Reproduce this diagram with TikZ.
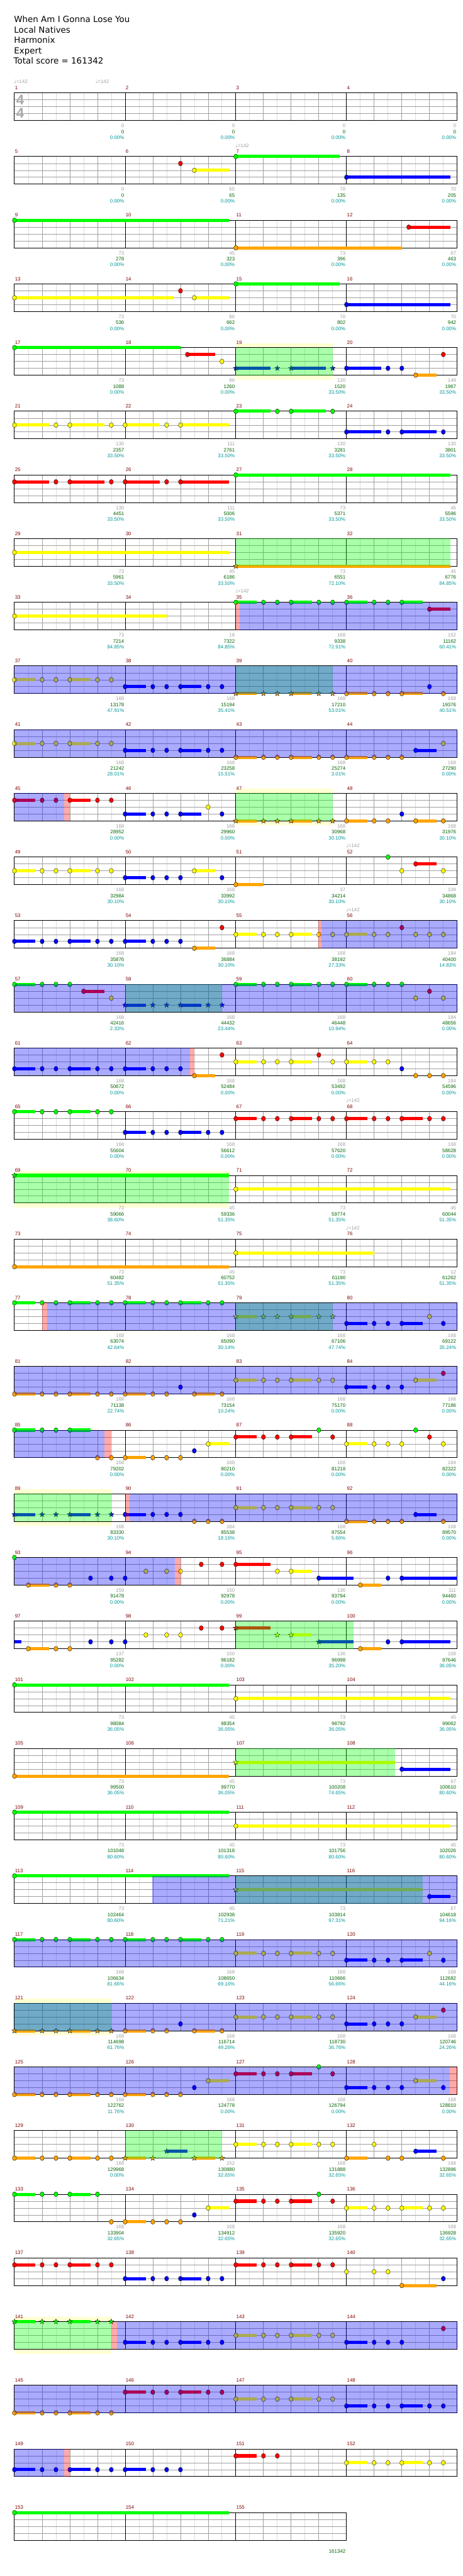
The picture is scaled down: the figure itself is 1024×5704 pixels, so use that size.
\documentclass[tikz,border=0pt]{standalone}
\usepackage{fontspec}
\setmainfont{Liberation Sans}
\newfontfamily\djv{DejaVu Sans}
\definecolor{l0}{HTML}{00FF00}
\definecolor{l1}{HTML}{FF0000}
\definecolor{l2}{HTML}{FFFF00}
\definecolor{l3}{HTML}{0000FF}
\definecolor{l4}{HTML}{FFA500}
\definecolor{mnumc}{HTML}{800000}
\definecolor{sgrey}{HTML}{A0A0A0}
\definecolor{sgreen}{HTML}{006400}
\definecolor{steal}{HTML}{009999}
\definecolor{gridd}{HTML}{A0A0A0}
\definecolor{gridl}{HTML}{DDDDDD}
\definecolor{bandc}{HTML}{FFFFD2}
\newcounter{tc}
\tikzset{
 rowsc/.style={shift={(32,{205.7+(#1-1)*141})}, x=30.625pt, y=-15.25pt},
 mnum/.style={text=mnumc, font=\fontsize{11}{11}\selectfont, inner sep=0},
 sg/.style={text=sgrey, font=\fontsize{11}{11}\selectfont, inner sep=0},
 sgn/.style={text=sgreen, font=\fontsize{11}{11}\selectfont, inner sep=0},
 st/.style={text=steal, font=\fontsize{11}{11}\selectfont, inner sep=0},
 tempo/.style={text=sgrey, font=\fontsize{11}{11}\selectfont, inner sep=0},
 title/.style={font=\djv\fontsize{18.7}{18.7}\selectfont, inner sep=0, anchor=base west},
 tsig/.style={text=black!33, font=\bfseries\fontsize{31}{31}\selectfont, inner sep=0}
}
\newcommand\grid[2]{%
 \pgfmathtruncatemacro\gNe{8*#1}%
 \pgfmathtruncatemacro\gNb{4*#1-1}%
 \pgfmathtruncatemacro\gNm{#1-1}%
 \fill[white] (0,0) rectangle (\gNe,4);
 \foreach \k in {0,...,\gNb} \draw[gridl, line width=1pt] ({2*\k+1},0) -- ({2*\k+1},4);
 \foreach \k in {1,...,\gNb} \draw[gridd, line width=1pt] ({2*\k},0) -- ({2*\k},4);
 \foreach \l in {1,2,3} \draw[gridd, line width=1pt] (0,\l) -- (\gNe,\l);
 \foreach \k in {1,...,\gNm} \draw[black, line width=1pt] ({8*\k},0) -- ({8*\k},4);
 \draw[black, line width=1.4pt] (0,0) rectangle (\gNe,4);
 \foreach \k in {0,...,\gNm}{\pgfmathtruncatemacro\mn{#2+\k}%
   \node[mnum, anchor=base west] (mn\mn) at ([xshift=1pt,yshift=7.4pt]{8*\k},0) {\mn};}
}
\newcommand\nh[2]{\filldraw[fill=l#1, draw=black, line width=0.5pt] ({#2},#1) ellipse [x radius=4.6pt, y radius=5.3pt];}
\newcommand\zh[2]{\filldraw[fill=l#1, draw=black, line width=0.5pt, shift={({#2},#1)}] (90:6pt)--(126:2.5pt)--(162:6pt)--(198:2.5pt)--(234:6pt)--(270:2.5pt)--(306:6pt)--(342:2.5pt)--(18:6pt)--(54:2.5pt)--cycle;}
\newcommand\Nt[2]{\foreach \p in {#2}{\nh{#1}{\p}}}
\newcommand\Zt[2]{\foreach \p in {#2}{\zh{#1}{\p}}}
\newcommand\Bs[3]{\fill[l#1] ([yshift=3.5pt]{#2},#1) rectangle ([yshift=-3.5pt]{#3},#1);}
\newcommand\Su[3]{\Bs{#1}{#2}{#3}\nh{#1}{#2}}
\newcommand\Zs[3]{\Bs{#1}{#2}{#3}\zh{#1}{#2}}
\newcommand\Pt[2]{\Su{#1}{#2}{#2+1.5}\Nt{#1}{#2+2,#2+3}\Su{#1}{#2+4}{#2+5.5}\Nt{#1}{#2+6,#2+7}}
\newcommand\Pz[2]{\Zs{#1}{#2}{#2+1.5}\Zt{#1}{#2+2,#2+3}\Zs{#1}{#2+4}{#2+5.5}\Zt{#1}{#2+6,#2+7}}
\newcommand\Dt[2]{\Su{#1}{#2}{#2+2.5}\Nt{#1}{#2+3}\Su{#1}{#2+4}{#2+6.5}\Nt{#1}{#2+7}}
\newcommand\GO[2]{\fill[l0, fill opacity=0.333] ({#1},0) rectangle ({#2},4);}
\newcommand\BO[2]{\fill[l3, fill opacity=0.333] ({#1},0) rectangle ({#2},4);}
\newcommand\PO[2]{\fill[l1, fill opacity=0.333] ({#1},0) rectangle ({#2},4);}
\newcommand\band[2]{\fill[bandc] ({#1},-0.656) rectangle ({#2},4.656);}
\newcommand\tempo[1]{\stepcounter{tc}\node[tempo, anchor=base west] (tp\thetc) at ([xshift=-1pt,yshift=20.7pt]{#1},0) {{\djv\char"2669}=142};}
\newcommand\scores[2]{\foreach \a/\b/\c [count=\j from 1] in {#2}{\pgfmathtruncatemacro\mm{#1+\j-1}%
 \node[sg, anchor=base east] (sg\mm) at ([xshift=-2pt,yshift=-76.3pt]{8*\j},0) {\a};
 \node[sgn, anchor=base east] (sn\mm) at ([xshift=-2pt,yshift=-89.6pt]{8*\j},0) {\b};
 \node[st, anchor=base east] (st\mm) at ([xshift=-2pt,yshift=-102.6pt]{8*\j},0) {\c\%};}}
\begin{document}
\begin{tikzpicture}[x=1pt,y=-1pt]
\useasboundingbox (0,0) rectangle (1024,5704);
\fill[white] (0,0) rectangle (1024,5704);
\node[title] (t1) at (31,50) {When Am I Gonna Lose You};
\node[title] (t2) at (31,72.8) {Local Natives};
\node[title] (t3) at (31,95.7) {Harmonix};
\node[title] (t4) at (31,118.5) {Expert};
\node[title] (t5) at (30,141.5) {Total score = 161342};
% row 1
\begin{scope}[rowsc=1]
\grid{4}{1}
\node[tsig] (ts1) at (0.41,1) {4}; \node[tsig] (ts2) at (0.41,2.94) {4};
\tempo{0}\tempo{5.88}
\scores{1}{0/0/0.00,0/0/0.00,0/0/0.00,0/0/0.00}
\end{scope}
% row 2
\begin{scope}[rowsc=2]
\grid{4}{5}\tempo{16}
\Nt{1}{12}\Su{2}{13}{15.5}\Su{0}{16}{23.5}\Su{3}{24}{31.5}
\scores{5}{0/0/0.00,65/65/0.00,70/135/0.00,70/205/0.00}
\end{scope}
% row 3
\begin{scope}[rowsc=3]
\grid{4}{9}
\Su{0}{0}{15.5}\Su{4}{16}{28}\Su{1}{28.5}{31.5}
\scores{9}{73/278/0.00,45/323/0.00,73/396/0.00,67/463/0.00}
\end{scope}
% row 4
\begin{scope}[rowsc=4]
\grid{4}{13}
\Su{2}{0}{11.5}\Nt{1}{12}\Su{2}{13}{15.5}\Su{0}{16}{23.5}\Su{3}{24}{31.5}
\scores{13}{73/536/0.00,86/662/0.00,70/802/0.00,70/942/0.00}
\end{scope}
% row 5
\begin{scope}[rowsc=5]
\band{16}{23}
\grid{4}{17}
\Su{0}{0}{12}\Su{1}{12.5}{14.5}\Nt{2}{15}
\Zs{3}{16}{18.5}\Zt{3}{19}\Zs{3}{20}{22.5}\Zt{3}{23}
\Su{3}{24}{26.5}\Nt{3}{27,28}\Su{4}{29}{30.5}\Nt{1}{31}
\GO{16}{23}
\scores{17}{73/1088/0.00,86/1260/0.00,130/1520/33.50,149/1967/33.50}
\end{scope}
% row 6
\begin{scope}[rowsc=6]
\grid{4}{21}
\Dt{2}{0}\Su{2}{8}{10.5}\Nt{2}{11}\Su{2}{12}{15.5}\Dt{0}{16}\Dt{3}{24}
\scores{21}{130/2357/33.50,111/2761/33.50,130/3281/33.50,130/3801/33.50}
\end{scope}
% row 7
\begin{scope}[rowsc=7]
\grid{4}{25}
\Dt{1}{0}\Su{1}{8}{10.5}\Nt{1}{11}\Su{1}{12}{15.5}\Su{0}{16}{31.5}
\scores{25}{130/4451/33.50,111/5006/33.50,73/5371/33.50,45/5596/33.50}
\end{scope}
% row 8
\begin{scope}[rowsc=8]
\grid{4}{29}
\Su{2}{0}{15.5}\Zs{4}{16}{31.5}
\GO{16}{31.5}
\scores{29}{73/5961/33.50,45/6186/33.50,73/6551/72.10,45/6776/84.85}
\end{scope}
% row 9
\begin{scope}[rowsc=9]
\grid{4}{33}\tempo{16}
\Su{2}{0}{11}\Pt{0}{16}\Su{0}{24}{25.5}\Nt{0}{26,27}\Su{0}{28}{29.5}\Su{1}{30}{31.5}
\PO{16}{16.3}\BO{16.3}{32}
\scores{33}{73/7214/84.85,18/7322/84.85,168/9338/72.91,152/11162/60.41}
\end{scope}
% row 10
\begin{scope}[rowsc=10]
\grid{4}{37}
\Pt{2}{0}\Pt{3}{8}\Pz{4}{16}\Su{4}{24}{25.5}\Nt{4}{26,27}\Su{4}{28}{29.5}\Nt{4}{31}\Nt{3}{30}
\GO{16}{23}\BO{0}{32}
\scores{37}{168/13178/47.91,168/15194/35.41,168/17210/53.01,168/19376/40.51}
\end{scope}
% row 11
\begin{scope}[rowsc=11]
\grid{4}{41}
\Pt{2}{0}\Pt{3}{8}\Pt{4}{16}\Su{4}{24}{25.5}\Nt{4}{26,27,28}\Su{3}{29}{30.5}\Nt{2}{31}
\BO{0}{32}
\scores{41}{168/21242/28.01,168/23258/15.51,168/25274/3.01,168/27290/0.00}
\end{scope}
% row 12
\begin{scope}[rowsc=12]
\band{16}{23}
\grid{4}{45}
\Pt{1}{0}\Su{3}{8}{9.5}\Nt{3}{10,11}\Su{3}{12}{13.5}\Nt{3}{15}\Nt{2}{14}
\Pz{4}{16}\Su{4}{24}{25.5}\Nt{4}{26,27}\Su{4}{29}{30.5}\Nt{4}{31}\Nt{3}{28}
\GO{16}{23}\BO{0}{3.59}\PO{3.59}{4.02}
\scores{45}{168/28952/0.00,168/29960/0.00,168/30968/30.10,168/31976/30.10}
\end{scope}
% row 13
\begin{scope}[rowsc=13]
\grid{4}{49}\tempo{24}
\Pt{2}{0}\Su{3}{8}{9.5}\Nt{3}{10,11,12,15}\Su{2}{13}{14.5}\Su{4}{16}{18}
\Nt{0}{27}\Su{1}{29}{30.5}\Nt{2}{28,31}
\scores{49}{168/32984/30.10,168/33992/30.10,37/34214/30.10,109/34868/30.10}
\end{scope}
% row 14
\begin{scope}[rowsc=14]
\grid{4}{53}\tempo{24}
\Pt{3}{0}\Su{3}{8}{9.5}\Nt{3}{10,11,12}\Su{4}{13}{14.5}\Nt{1}{15}
\Pt{2}{16}\Su{2}{24}{25.5}\Nt{2}{26,27,29,30,31}\Nt{1}{28}
\PO{21.98}{22.18}\BO{22.18}{32}
\scores{53}{168/35876/30.10,168/36884/30.10,168/38192/27.33,184/40400/14.83}
\end{scope}
% row 15
\begin{scope}[rowsc=15]
\grid{4}{57}
\Su{0}{0}{1.5}\Nt{0}{2,3,4}\Su{1}{5}{6.5}\Nt{2}{7}\Pz{3}{8}
\Pt{0}{16}\Su{0}{24}{25.5}\Nt{0}{26,27,28}\Nt{2}{29,31}\Nt{1}{30}
\GO{8}{15}\BO{0}{32}
\scores{57}{168/42416/2.33,168/44432/23.44,168/46448/10.94,184/48656/0.00}
\end{scope}
% row 16
\begin{scope}[rowsc=16]
\grid{4}{61}
\Pt{3}{0}\Su{3}{8}{9.5}\Nt{3}{10,11,12}\Su{4}{13}{14.5}\Nt{1}{15,22}
\Su{2}{16}{17.5}\Nt{2}{18,19}\Su{2}{20}{21.5}\Nt{2}{23}\Su{2}{24}{25.5}\Nt{2}{26,27}
\Nt{3}{28}\Nt{4}{29,30,31}
\BO{0}{12.71}\PO{12.71}{13}
\scores{61}{168/50672/0.00,168/52484/0.00,168/53492/0.00,184/54596/0.00}
\end{scope}
% row 17
\begin{scope}[rowsc=17]
\grid{4}{65}\tempo{24}
\Pt{0}{0}\Pt{3}{8}\Pt{1}{16}\Pt{1}{24}
\scores{65}{168/55604/0.00,168/56612/0.00,168/57620/0.00,168/58628/0.00}
\end{scope}
% row 18
\begin{scope}[rowsc=18]
\band{0}{15.5}
\grid{4}{69}
\Zs{0}{0}{15.5}\Su{2}{16}{31.5}
\GO{0}{15.5}
\scores{69}{73/59066/38.60,45/59336/51.35,73/59774/51.35,45/60044/51.35}
\end{scope}
% row 19
\begin{scope}[rowsc=19]
\grid{4}{73}\tempo{24}
\Su{4}{0}{15.5}\Su{2}{16}{26}
\scores{73}{73/60482/51.35,45/60752/51.35,73/61190/51.35,12/61262/51.35}
\end{scope}
% row 20
\begin{scope}[rowsc=20]
\grid{4}{77}
\Pt{0}{0}\Pt{0}{8}\Pz{2}{16}\Su{3}{24}{25.5}\Nt{3}{26,27}\Su{3}{28}{29.5}\Nt{3}{31}\Nt{2}{30}
\GO{16}{23}\PO{2}{2.37}\BO{2.37}{32}
\scores{77}{168/63074/42.64,168/65090/30.14,168/67106/47.74,168/69122/35.24}
\end{scope}
% row 21
\begin{scope}[rowsc=21]
\grid{4}{81}
\Pt{4}{0}\Su{4}{8}{9.5}\Nt{4}{10,11}\Su{4}{13}{14.5}\Nt{4}{15}\Nt{3}{12}
\Pt{2}{16}\Su{3}{24}{25.5}\Nt{3}{26,27,28}\Su{2}{29}{30.5}\Nt{1}{31}
\BO{0}{32}
\scores{81}{168/71138/22.74,168/73154/10.24,168/75170/0.00,168/77186/0.00}
\end{scope}
% row 22
\begin{scope}[rowsc=22]
\grid{4}{85}
\Su{0}{0}{1.5}\Nt{0}{2,3}\Su{0}{4}{5.5}\Nt{4}{6,7}\Su{4}{8}{9.5}\Nt{4}{10,11,12}
\Nt{3}{13}\Su{2}{14}{15.5}\Su{1}{16}{17.5}\Nt{1}{18,19}\Su{1}{20}{21.5}\Nt{1}{23}
\Nt{0}{22,29}\Su{2}{24}{25.5}\Nt{2}{26,27,28,31}\Nt{1}{30}
\BO{0}{6.51}\PO{6.51}{6.99}
\scores{85}{168/79202/0.00,168/80210/0.00,168/81218/0.00,184/82322/0.00}
\end{scope}
% row 23
\begin{scope}[rowsc=23]
\band{0}{7}
\grid{4}{89}
\Pz{3}{0}\Su{3}{8}{9.5}\Nt{3}{10,11,12}\Nt{4}{13,14,15}\Pt{2}{16}
\Su{4}{24}{25.5}\Nt{4}{26,27,28,31}\Su{3}{29}{30.5}
\GO{0}{7}\PO{7.99}{8.32}\BO{8.32}{32}
\scores{89}{168/83330/30.10,184/85538/18.16,168/87554/5.66,168/89570/0.00}
\end{scope}
% row 24
\begin{scope}[rowsc=24]
\grid{4}{93}
\Nt{0}{0}\Su{4}{1}{2.5}\Nt{4}{3,4}\Nt{3}{5.5,7,8}\Nt{2}{9.5,11,12}\Nt{1}{13.5,15}\Su{1}{16}{18.5}
\Nt{2}{19}\Su{2}{20}{21.5}\Su{3}{22}{24.5}\Nt{3}{27}\Su{3}{28}{32}\Su{4}{25}{26.5}
\BO{0}{11.58}\PO{11.58}{11.99}
\scores{93}{159/91478/0.00,150/92978/0.00,136/93794/0.00,111/94460/0.00}
\end{scope}
% row 25
\begin{scope}[rowsc=25]
\grid{4}{97}
\Bs{3}{0}{0.48}\Su{4}{1}{2.5}\Nt{4}{3,4}\Nt{3}{5.5,7,8}\Nt{2}{9.5,11,12}\Nt{1}{13.5,15}
\Zs{1}{16}{18.5}\Zt{2}{19}\Zs{2}{20}{21.5}\Zs{3}{22}{24.5}\Su{4}{25}{26.5}\Nt{3}{27}\Su{3}{28}{31.5}
\GO{16}{24.5}
\scores{97}{137/95282/0.00,150/96182/0.00,136/96998/35.20,108/97646/36.05}
\end{scope}
% row 26
\begin{scope}[rowsc=26]
\grid{4}{101}
\Su{0}{0}{15.5}\Su{2}{16}{31.5}
\scores{101}{73/98084/36.05,45/98354/36.05,73/98792/36.05,45/99062/36.05}
\end{scope}
% row 27
\begin{scope}[rowsc=27]
\grid{4}{105}
\Su{4}{0}{15.5}\Zs{2}{16}{27.5}\Su{3}{28}{31.5}
\GO{16}{27.5}
\scores{105}{73/99500/36.05,45/99770/36.05,73/100208/74.65,67/100610/80.60}
\end{scope}
% row 28
\begin{scope}[rowsc=28]
\grid{4}{109}
\Su{0}{0}{15.5}\Su{2}{16}{31.5}
\scores{109}{73/101048/80.60,45/101318/80.60,73/101756/80.60,45/102026/80.60}
\end{scope}
% row 29
\begin{scope}[rowsc=29]
\grid{4}{113}
\Su{0}{0}{15.5}\Zs{2}{16}{29.5}\Su{3}{30}{31.5}
\GO{16}{29.5}\BO{9.97}{32}
\scores{113}{73/102464/80.60,45/102938/71.21,73/103814/97.31,67/104618/94.16}
\end{scope}
% row 30
\begin{scope}[rowsc=30]
\grid{4}{117}
\Pt{0}{0}\Pt{0}{8}\Pt{2}{16}\Su{3}{24}{25.5}\Nt{3}{26,27}\Su{3}{28}{29.5}\Nt{3}{31}\Nt{2}{30}
\BO{0}{32}
\scores{117}{168/106634/81.66,168/108650/69.16,168/110666/56.66,168/112682/44.16}
\end{scope}
% row 31
\begin{scope}[rowsc=31]
\band{0}{7}
\grid{4}{121}
\Pz{4}{0}\Su{4}{8}{9.5}\Nt{4}{10,11}\Su{4}{13}{14.5}\Nt{4}{15}\Nt{3}{12}
\Pt{2}{16}\Su{3}{24}{25.5}\Nt{3}{26,27,28}\Su{2}{29}{30.5}\Nt{1}{31}
\GO{0}{7}\BO{0}{32}
\scores{121}{168/114698/61.76,168/116714/49.26,168/118730/36.76,168/120746/24.26}
\end{scope}
% row 32
\begin{scope}[rowsc=32]
\grid{4}{125}
\Pt{4}{0}\Su{4}{8}{9.5}\Nt{4}{10,11,12}\Nt{3}{13}\Su{2}{14}{15.5}
\Su{1}{16}{17.5}\Nt{1}{18,19}\Su{1}{20}{21.5}\Nt{1}{23}\Nt{0}{22}
\Su{3}{24}{25.5}\Nt{3}{26,27,28,31}\Su{2}{29}{30.5}
\BO{0}{31.46}\PO{31.46}{32}
\scores{125}{168/122762/11.76,168/124778/0.00,168/126794/0.00,168/128810/0.00}
\end{scope}
% row 33
\begin{scope}[rowsc=33]
\grid{4}{129}
\Pt{4}{0}\Zs{4}{8}{9.5}\Zt{4}{10}\Zs{3}{11}{12.5}\Zs{4}{13}{14.5}\Zt{4}{15}
\Pt{2}{16}\Nt{2}{26}\Su{4}{24}{25.5}\Nt{4}{27,28,31}\Su{3}{29}{30.5}
\GO{8}{15}
\scores{129}{168/129968/0.00,152/130880/32.65,168/131888/32.65,168/132896/32.65}
\end{scope}
% row 34
\begin{scope}[rowsc=34]
\grid{4}{133}
\Su{0}{0}{1.5}\Nt{0}{2,3}\Su{0}{4}{5.5}\Nt{0}{6}\Nt{4}{7}\Su{4}{8}{9.5}\Nt{4}{10,11,12}
\Nt{3}{13}\Su{2}{14}{15.5}\Su{1}{16}{17.5}\Nt{1}{18,19}\Su{1}{20}{21.5}\Nt{1}{23}\Nt{0}{22}
\Pt{2}{24}
\scores{133}{168/133904/32.65,168/134912/32.65,168/135920/32.65,168/136928/32.65}
\end{scope}
% row 35
\begin{scope}[rowsc=35]
\grid{4}{137}
\Pt{1}{0}\Pt{3}{8}\Su{1}{16}{17.5}\Nt{1}{18,19}\Su{1}{20}{21.5}\Nt{1}{22,23}
\Nt{2}{24,26,27}\Su{4}{28}{30.5}\Nt{3}{31}
\end{scope}
% row 36
\begin{scope}[rowsc=36]
\band{0}{7}
\grid{4}{141}
\Pz{0}{0}\Pt{3}{8}\Pt{2}{16}\Su{3}{24}{25.5}\Nt{3}{26,27,28}\Nt{1}{31}
\GO{0}{7}\PO{7}{7.4}\BO{7.4}{32}
\end{scope}
% row 37
\begin{scope}[rowsc=37]
\grid{4}{145}
\Pt{4}{0}\Pt{1}{8}\Pt{2}{16}\Pt{3}{24}
\BO{0}{32}
\end{scope}
% row 38
\begin{scope}[rowsc=38]
\grid{4}{149}
\Pt{3}{0}\Su{3}{8}{9.5}\Nt{3}{10,11,12}\Su{1}{16}{17.5}\Nt{1}{18,19}\Pt{2}{24}
\BO{0}{3.59}\PO{3.59}{4.02}
\end{scope}
% row 39
\begin{scope}[rowsc=39]
\grid{3}{153}
\Su{0}{0}{15.5}
\node[sgn, anchor=base east] (sn155) at ([xshift=-2pt,yshift=-89.6pt]24,0) {161342};
\end{scope}
\end{tikzpicture}
\end{document}
